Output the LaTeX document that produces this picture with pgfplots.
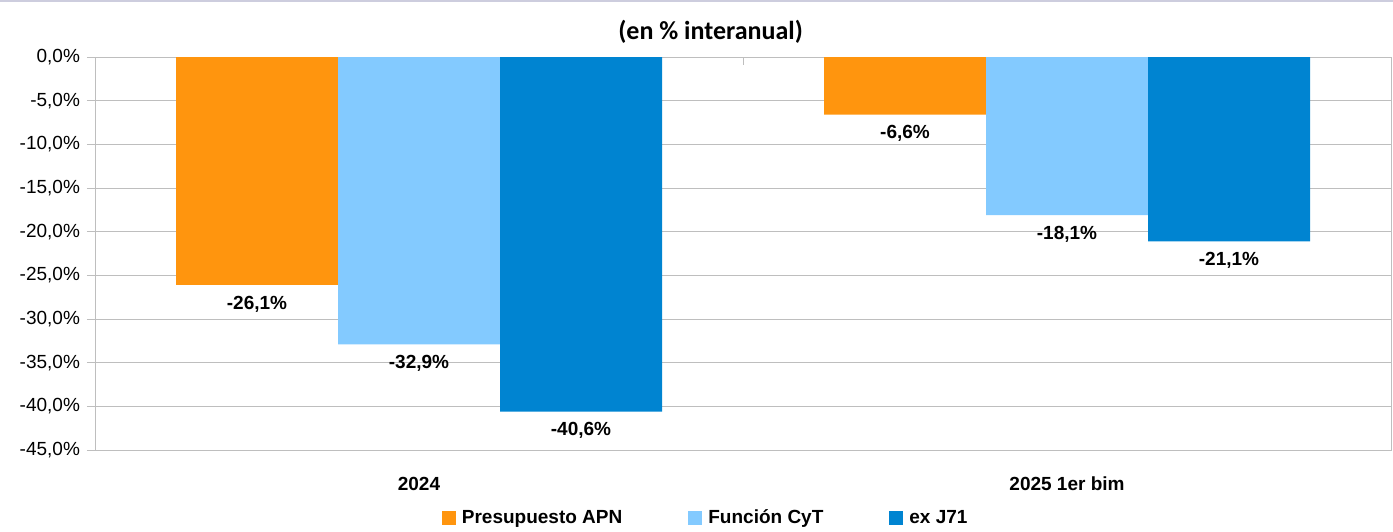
\documentclass[border=0pt]{standalone}
\usepackage{pgfplots}
\pgfplotsset{compat=1.18}
\usepackage{fontspec}
\setmainfont{Liberation Sans}
\newfontfamily\carlito{Carlito}
\definecolor{cOrange}{RGB}{255,149,14}
\definecolor{cLight}{RGB}{131,202,255}
\definecolor{cDark}{RGB}{0,132,209}
\definecolor{gridc}{RGB}{190,190,190}
\definecolor{topline}{RGB}{205,205,222}

\begin{document}
\begin{tikzpicture}
% picture frame: 1393x531 px at 0.5pt per px
\useasboundingbox (0,0) rectangle (696.5pt,265.5pt);
\fill[topline] (0,264.5pt) rectangle (696.5pt,265.5pt);
\begin{axis}[
  at={(47.5pt,40.5pt)}, anchor=south west,
  scale only axis,
  width=648pt, height=196.5pt,
  xmin=-0.5, xmax=1.5,
  ymin=-45, ymax=0,
  axis line style={gridc},
  xtick={0,1},
  xticklabels={2024,2025 1er bim},
  xtick style={draw=none},
  x tick label style={font=\fontsize{9.5}{11}\selectfont\bfseries, yshift=-6pt},
  ytick={-45,-40,...,0},
  ytick pos=left,
  ytick style={gridc},
  major tick length=4pt,
  tick align=outside,
  ymajorgrids,
  grid style={gridc},
  y tick label style={font=\fontsize{9.5}{11}\selectfont},
  /pgf/number format/assume math mode=true,
  yticklabel={\pgfmathprintnumber[fixed,fixed zerofill,precision=1,use comma]{\tick}\%},
  bar width=0.25,
  point meta=y,
  nodes near coords={\pgfmathprintnumber[fixed,fixed zerofill,precision=1,use comma,assume math mode=true]{\pgfplotspointmeta}\%},
  every node near coord/.append style={font=\fontsize{9.5}{11}\selectfont\bfseries, black, yshift=-2pt},
  legend columns=3,
  legend style={draw=none, fill=none, at={(0.472,-0.173)}, anchor=center,
    font=\fontsize{9.5}{11}\selectfont\bfseries,
    /tikz/every even column/.append style={column sep=31pt}},
  legend image code/.code={\fill[#1] (0pt,-3.5pt) rectangle (7pt,3.5pt); \path (8pt,0);},
  clip=false,
]
% bars placed at their own x positions (category +/- 0.25)
\addplot[ybar, bar shift=0, fill=cOrange, draw=none]
  coordinates {(-0.25,-26.1) (0.75,-6.6)};
\addplot[ybar, bar shift=0, fill=cLight, draw=none]
  coordinates {(0,-32.9) (1,-18.1)};
\addplot[ybar, bar shift=0, fill=cDark, draw=none]
  coordinates {(0.25,-40.6) (1.25,-21.1)};
\legend{Presupuesto APN, Función CyT, ex J71}
\draw[gridc] (axis cs:0.5,0) -- ([yshift=-4pt]axis cs:0.5,0);
\node[font=\carlito\fontsize{13}{15}\selectfont\bfseries] at (axis description cs:0.475,1.064) {(en \% interanual)};
\end{axis}
\end{tikzpicture}
\end{document}
